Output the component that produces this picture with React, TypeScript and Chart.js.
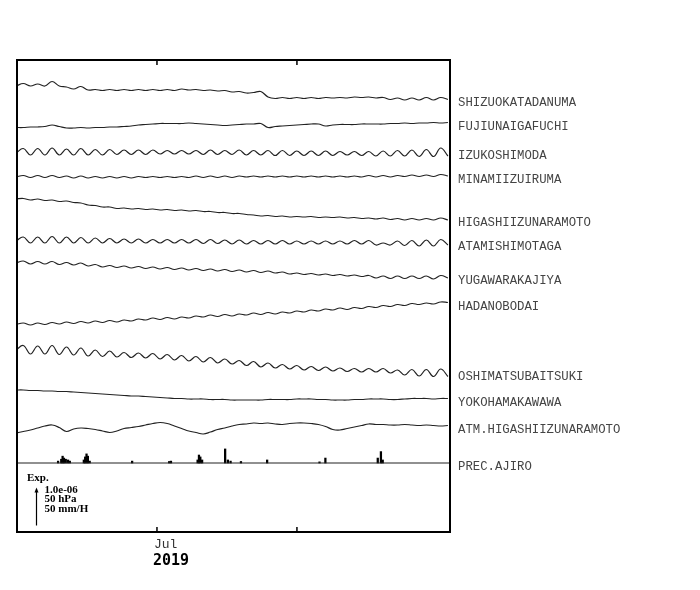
import React, { useEffect, useRef } from 'react';
import { Chart, registerables } from 'chart.js';

Chart.register(...registerables);

// Time axis: days relative to 2019-07-01
const X_MIN = -31;
const X_MAX = 64.9;
const MONTH_TICKS = [0, 31];
const MONTH_LABELS = ['Jul', ''];
const YEAR_LABEL = '2019';

// regular sampling grid (days)
const SAMPLE_START = -31.2;
const SAMPLE_STEP = 1.594;
const SAMPLE_COUNT = 61;
const sampleDays = Array.from({ length: SAMPLE_COUNT }, (_, i) => SAMPLE_START + i * SAMPLE_STEP);

// one display unit: EXP_UNITS = 1.0e-06 strain = 50 hPa = 50 mm/H
const EXP_UNITS = 38;
const Y_MAX = 472;

const stationNames = [
  'SHIZUOKATADANUMA',
  'FUJIUNAIGAFUCHI',
  'IZUKOSHIMODA',
  'MINAMIIZUIRUMA',
  'HIGASHIIZUNARAMOTO',
  'ATAMISHIMOTAGA',
  'YUGAWARAKAJIYA',
  'HADANOBODAI',
  'OSHIMATSUBAITSUKI',
  'YOKOHAMAKAWAWA',
  'ATM.HIGASHIIZUNARAMOTO',
];
const precipName = 'PREC.AJIRO';

// stacked trace levels (display units)
const traceLevels = [446, 404.5, 380, 355.5, 333, 292, 269, 207.5, 182, 142, 99];
const precipLevel = 69;

const shizuokaTadanuma = [0, 2.5, 0, 2, 0, 4.5, 0, -1, -3, -0.5,
  -4, -3.5, -4.5, -3.5, -4.5, -3.5, -4.5, -3.5, -4.5, -3.5,
  -4.5, -3.5, -4.5, -3, -4, -3.5, -4.5, -4, -5, -4.5,
  -6, -5.5, -7, -6.5, -5.5, -11, -12.5, -11.5, -12.5, -11.5,
  -12.5, -11.5, -12.5, -11.5, -12, -11.5, -12, -11, -11.5, -11,
  -12, -11.5, -13.5, -12, -14, -12, -14, -11.5, -14, -11.5,
  -13.5];
const fujiunaigafuchi = [0, 0, 0.5, 0.5, 1, 2.5, 1, -0.5, -0.5, 0,
  -0.5, 0, 0, 0.5, 0.5, 1, 1.5, 2.5, 3, 3.5,
  4, 4, 4, 4, 4.5, 4, 3.5, 3, 2.5, 2,
  2.5, 3, 3.5, 3.5, 4, 0, 1, 1.5, 2, 2.5,
  3, 3.5, 3.5, 1.5, 2.5, 3, 3, 3, 3.5, 3.5,
  3.5, 3.5, 4, 4, 4.5, 4, 4.5, 4.5, 5, 4.5,
  5];
const izukoshimoda = [-1, 3.5, -3, 3.5, -3, 4, -3, 3, -3, 3.5,
  -3, 2.5, -3, 2.5, -2.5, 2, -2.5, 2, -2.5, 2,
  -2, 1.5, -2, 1.5, -2, 1.5, -2.5, 2, -2.5, 1.5,
  -2.5, 2, -3, 1.5, -3, 1.5, -3.5, 1.5, -3.5, 1,
  -3.5, 1, -3.5, 1, -3.5, 0.5, -3, 0.5, -3.5, 0.5,
  -4, 1, -4, 1.5, -4, 2, -4.5, 2.5, -4.5, 4,
  -4];
const minamiizuiruma = [-0.5, 1, -1, 1, -1, 1, -1, 0.5, -1.5, 0.5,
  -1.5, 0, -1.5, 0, -1.5, 0, -1.5, 0, -1, 0,
  -1, 0, -1, 0, -1, 0.5, -1, 0.5, -1, 0.5,
  -1, 0.5, -0.5, 0.5, -0.5, 0.5, -0.5, 0.5, -0.5, 0.5,
  -0.5, 0.5, -0.5, 0.5, -0.5, 0.5, -0.5, 0.5, -0.5, 1,
  -0.5, 1, -0.5, 1, 0, 1.5, 0, 1.5, 0, 2,
  0.5];
const higashiizunaramoto = [0, 0.5, -1, 0, -1.5, -1, -2.5, -2, -3.5, -4,
  -6, -6.5, -8, -8, -9.5, -9, -10, -9.5, -10.5, -10,
  -11, -10.5, -11.5, -11, -12, -11.5, -12.5, -12.5, -13.5, -13.5,
  -14.5, -14.5, -15.5, -16, -17, -16.5, -17.5, -17, -18, -17.5,
  -18, -17.5, -18.5, -18, -18.5, -18, -19, -18.5, -19.5, -19,
  -20, -19, -20.5, -19.5, -21, -19.5, -21, -19.5, -21, -19,
  -21];
const atamishimotaga = [-1, 3, -3, 3, -3, 3.5, -3, 3, -3, 2.5,
  -3, 2, -3, 1.5, -3, 1, -3, 1, -3, 0.5,
  -3, 0.5, -3, 0.5, -3, 0.5, -3.5, 0.5, -3.5, 0,
  -4, 0, -4, -0.5, -4, -0.5, -4, -0.5, -4, -1,
  -4, -1, -4, -1, -4, -1, -4, -0.5, -4, -0.5,
  -5, -3, -5, -1, -5.5, -0.5, -6, 0, -6, 0.5,
  -5];
const yugawarakajiya = [0, 2, -1, 1.5, -1, 1.5, -1.5, 0.5, -2, 0,
  -3, -1.5, -4, -2.5, -4.5, -3, -5, -3.5, -5.5, -4,
  -6, -4.5, -6.5, -5, -7, -5.5, -7.5, -6, -8, -6.5,
  -8.5, -7, -9, -7.5, -9.5, -8, -10, -9, -11, -10,
  -11.5, -10.5, -12, -11, -12.5, -11.5, -13, -12, -13.5, -12.5,
  -15, -13, -15.5, -13, -15.5, -13, -15.5, -13, -16, -12.5,
  -15];
const hadanobodai = [0, 1.5, -0.5, 1.5, 0, 2, 0.5, 2.5, 1, 3,
  1.5, 3.5, 2, 4, 2.5, 4.5, 3.5, 5.5, 4.5, 6.5,
  5, 7, 5.5, 7.5, 6.5, 8.5, 7.5, 9.5, 8, 10,
  8.5, 10.5, 9.5, 11.5, 10, 12, 10.5, 12.5, 11.5, 13.5,
  12.5, 14.5, 13.5, 15.5, 14.5, 16.5, 15, 17, 16, 18,
  17, 19, 18, 20, 19, 21, 20, 21.5, 20.5, 22.5,
  22];
const oshimatsubaitsuki = [0, 4.5, -4, 4, -4, 4.5, -4.5, 3, -5, 2,
  -6, 0, -6.5, -1, -7, -2.5, -7.5, -3, -8, -3.5,
  -9, -4.5, -10, -5.5, -11, -6.5, -12, -7.5, -13, -9,
  -14, -10.5, -15.5, -11.5, -17, -13, -18, -14.5, -19, -15.5,
  -20, -16.5, -20.5, -17, -21, -18, -21.5, -18.5, -22, -18.5,
  -22, -18.5, -23, -20, -25, -19.5, -26, -19.5, -26.5, -19,
  -26.5];
const yokohamakawawa = [0, 0, -0.5, -0.5, -1, -1, -1.5, -1.5, -2, -2.5,
  -3, -3.5, -4, -4.5, -5, -5.5, -6, -6, -6.5, -7,
  -7.5, -8, -8.5, -8.5, -9, -9, -9, -9.5, -9.5, -9.5,
  -10, -10, -10, -10, -10, -9.5, -9.5, -9.5, -9.5, -9,
  -9, -9, -9.5, -9.5, -10, -10, -10, -9.5, -9.5, -9,
  -9, -9, -9.5, -9.5, -9, -8.5, -8.5, -8.5, -9, -8.5,
  -8.5];
const atmHigashiizunaramoto = [0, 1.5, 3, 5, 7, 8, 5.5, 1.5, 4, 5,
  4.5, 3.5, 2, 0.5, 2, 4.5, 5.5, 6.5, 8, 9.5,
  10.5, 9.5, 7, 4.5, 2, 0.5, -1, 1, 3.5, 5,
  7, 8.5, 9, 10, 9.5, 10, 9, 8.5, 9.5, 10,
  10, 9.5, 8.5, 6.5, 3.5, 3, 4.5, 6, 7.5, 9,
  8.5, 8.5, 8, 8, 8.5, 8, 7.5, 8, 7.5, 7,
  7.5];

const traceSeries = [
  shizuokaTadanuma, fujiunaigafuchi, izukoshimoda, minamiizuiruma,
  higashiizunaramoto, atamishimotaga, yugawarakajiya, hadanobodai,
  oshimatsubaitsuki, yokohamakawawa, atmHigashiizunaramoto,
];

// Precipitation at Ajiro (mm/H)
const precipDays = [-21.9, -21.2, -20.9, -20.6, -20.2, -19.7, -19.3, -16.2, -15.9, -15.6,
  -15.3, -14.9, -5.5, 2.7, 3.1, 9.0, 9.3, 9.6, 10.0, 15.1,
  15.7, 16.3, 18.6, 24.4, 36.0, 37.3, 48.9, 49.6, 50.0];
const precipMm = [2.5, 5, 9, 6.5, 5, 4, 2.5, 4, 8, 12,
  9, 2.5, 2.5, 2, 2.5, 4, 10.5, 8, 4, 18.5,
  4, 2.5, 2, 4, 1.5, 6.5, 6.5, 15, 4];

const expLines = ['1.0e-06', '50 hPa', '50 mm/H'];

const framePlugin = {
  id: 'framePlugin',
  afterDatasetsDraw(chart: any) {
    const { ctx, chartArea: a, scales } = chart;
    const xs = scales.x;
    const ys = scales.y;
    ctx.save();

    // frame
    ctx.strokeStyle = '#000';
    ctx.lineWidth = 2;
    ctx.strokeRect(a.left, a.top, a.right - a.left, a.bottom - a.top);

    // month ticks (inside)
    ctx.lineWidth = 1.5;
    MONTH_TICKS.forEach((d) => {
      const px = xs.getPixelForValue(d);
      ctx.beginPath();
      ctx.moveTo(px, a.top);
      ctx.lineTo(px, a.top + 5);
      ctx.moveTo(px, a.bottom);
      ctx.lineTo(px, a.bottom - 5);
      ctx.stroke();
    });

    // month labels
    ctx.textAlign = 'left';
    ctx.textBaseline = 'middle';
    MONTH_TICKS.forEach((d, i) => {
      if (!MONTH_LABELS[i]) return;
      const px = xs.getPixelForValue(d);
      ctx.fillStyle = '#333';
      ctx.font = "13px 'Liberation Mono'";
      ctx.fillText(MONTH_LABELS[i], px - 3, a.bottom + 13);
      if (i === 0) {
        ctx.fillStyle = '#000';
        ctx.font = "bold 15px 'DejaVu Sans Mono'";
        ctx.fillText(YEAR_LABEL, px - 4, a.bottom + 29);
      }
    });

    // station labels at the right, next to each trace's end
    ctx.fillStyle = '#444';
    ctx.font = "12.3px 'Liberation Mono'";
    traceSeries.forEach((s, i) => {
      const n = s.length;
      const v = traceLevels[i] + (s[n - 1] + s[n - 2]) / 2;
      ctx.fillText(stationNames[i], a.right + 8, ys.getPixelForValue(v) + 4);
    });
    ctx.fillText(precipName, a.right + 8, ys.getPixelForValue(precipLevel) + 3.5);

    // Exp. scale legend
    ctx.fillStyle = '#000';
    ctx.font = "bold 11px 'Liberation Serif'";
    ctx.fillText('Exp.', a.left + 10, a.bottom - 54);
    const arrowLen = ys.getPixelForValue(0) - ys.getPixelForValue(EXP_UNITS);
    const ax = a.left + 19.5;
    const ab = a.bottom - 6.5;
    const at = ab - arrowLen;
    ctx.strokeStyle = '#000';
    ctx.lineWidth = 1.2;
    ctx.beginPath();
    ctx.moveTo(ax, ab);
    ctx.lineTo(ax, at + 3);
    ctx.stroke();
    ctx.beginPath();
    ctx.moveTo(ax, at);
    ctx.lineTo(ax - 2, at + 5);
    ctx.lineTo(ax + 2, at + 5);
    ctx.closePath();
    ctx.fill();
    expLines.forEach((t, i) => {
      ctx.fillText(t, a.left + 27.5, a.bottom - 42 + i * 9.5);
    });

    ctx.restore();
  },
};

export default function App() {
  const canvasRef = useRef<HTMLCanvasElement | null>(null);

  useEffect(() => {
    const canvas = canvasRef.current;
    if (!canvas) return;

    const lineSets = traceSeries.map((s, i) => ({
      type: 'line' as const,
      label: stationNames[i],
      data: s.map((v, j) => ({ x: sampleDays[j], y: traceLevels[i] + v })),
      borderColor: '#222',
      borderWidth: 1.2,
      pointRadius: 0,
      tension: 0.4,
      fill: false,
    }));

    const precipBase = {
      type: 'line' as const,
      label: precipName + ' base',
      data: [
        { x: X_MIN, y: precipLevel },
        { x: X_MAX, y: precipLevel },
      ],
      borderColor: '#222',
      borderWidth: 1.2,
      pointRadius: 0,
      tension: 0,
      fill: false,
    };

    const precipBars = {
      type: 'bar' as const,
      label: precipName,
      data: precipDays.map((d, i) => ({
        x: d,
        y: [precipLevel, precipLevel + (precipMm[i] * EXP_UNITS) / 50],
      })),
      backgroundColor: '#000',
      barThickness: 1.6,
      grouped: false,
    };

    const chart = new Chart(canvas, {
      type: 'line',
      data: { datasets: [...lineSets, precipBase, precipBars] as any },
      options: {
        responsive: false,
        animation: false,
        devicePixelRatio: 1,
        layout: { padding: { left: 17, top: 60, right: 250, bottom: 58 } },
        plugins: {
          legend: { display: false },
          tooltip: { enabled: false },
        },
        scales: {
          x: { type: 'linear', min: X_MIN, max: X_MAX, display: false, offset: false },
          y: { type: 'linear', min: 0, max: Y_MAX, display: false },
        },
      },
      plugins: [framePlugin],
    });

    return () => chart.destroy();
  }, []);

  return (
    <div style={{ position: 'absolute', left: 0, top: 0, width: 700, height: 590, background: '#fff' }}>
      <canvas ref={canvasRef} width={700} height={590} />
    </div>
  );
}
